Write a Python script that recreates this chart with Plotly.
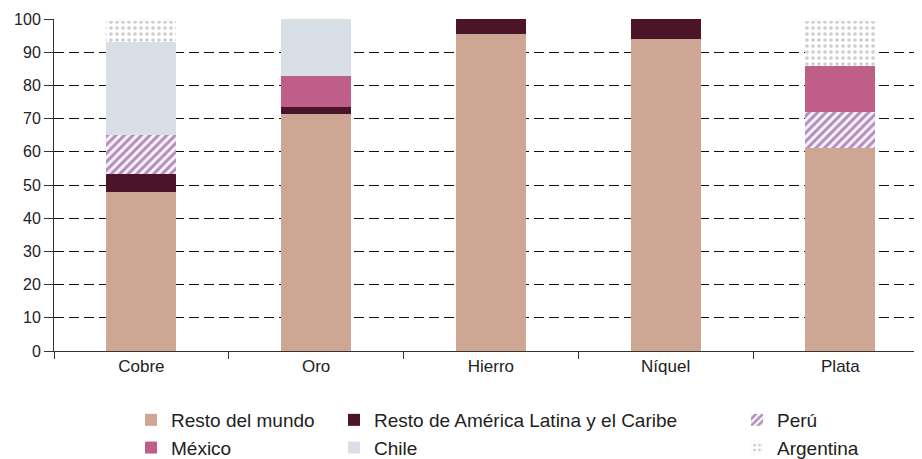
import plotly.graph_objects as go

categories = ["Cobre", "Oro", "Hierro", "Níquel", "Plata"]
resto_mundo = [47.8, 71.5, 95.5, 94.0, 61.2]
resto_alc = [5.5, 1.9, 4.5, 6.0, 0.0]
peru = [11.7, 0.0, 0.0, 0.0, 10.8]
mexico = [0.0, 9.3, 0.0, 0.0, 13.8]
chile = [28.0, 17.3, 0.0, 0.0, 0.0]
argentina = [6.5, 0.0, 0.0, 0.0, 13.7]

OFF = 8  # page body margin
W, H = 922 - OFF, 459 - OFF
fig = go.Figure()

def add(name, vals, color, legend, pattern=None):
    marker = dict(color=color, line=dict(width=0))
    if pattern:
        marker["pattern"] = pattern
    fig.add_trace(go.Bar(x=categories, y=vals, name=name, marker=marker,
                         width=0.4, legend=legend, hoverinfo="skip"))

add("Resto del mundo", resto_mundo, "#CDA694", "legend")
add("Resto de América Latina y el Caribe", resto_alc, "#4B1429", "legend2")
add("Perú", peru, "#FBF0FA", "legend3",
    dict(shape="/", fgcolor="#5E2F78", bgcolor="#FBF0FA", size=6, solidity=0.5))
add("México", mexico, "#BF5F87", "legend")
add("Chile", chile, "#D8DFE6", "legend2")
add("Argentina", argentina, "#FFFFFF", "legend3",
    dict(shape=".", fgcolor="#9A9EA3", bgcolor="#FFFFFF", size=6, solidity=0.3))

lfont = dict(family="Liberation Sans, Arial", size=19, color="#222222")
def leg(x):
    return dict(x=(x - OFF) / W, xref="container", y=1 - (401 - OFF) / H, yref="container",
                xanchor="left", yanchor="top", orientation="v",
                traceorder="normal",
                font=lfont, bgcolor="rgba(0,0,0,0)", borderwidth=0,
                itemclick=False, itemdoubleclick=False)

fig.update_layout(
    width=W, height=H,
    barmode="stack",
    plot_bgcolor="white", paper_bgcolor="white",
    margin=dict(l=54 - OFF, r=0, t=19 - OFF, b=108, autoexpand=False),
    font=dict(family="Liberation Sans, Arial", size=16, color="#222222"),
    showlegend=True,
    legend=leg(131),
    legend2=leg(334),
    legend3=leg(737),
    xaxis=dict(range=[-0.5, 4.467], tickson="boundaries", ticks="outside",
               ticklen=7, tickcolor="#333333", showline=True, linecolor="#333333",
               linewidth=1, showgrid=False, tickangle=0,
               tickfont=dict(size=17, color="#222222")),
    yaxis=dict(range=[0, 100], dtick=10, ticks="outside", ticklen=9,
               tickcolor="#333333", showline=True, linecolor="#333333", linewidth=1,
               showgrid=True, gridcolor="#111111", griddash="10px,5px", gridwidth=1,
               zeroline=False, tickfont=dict(size=16, color="#222222")),
)

fig.write_html("out.html")
